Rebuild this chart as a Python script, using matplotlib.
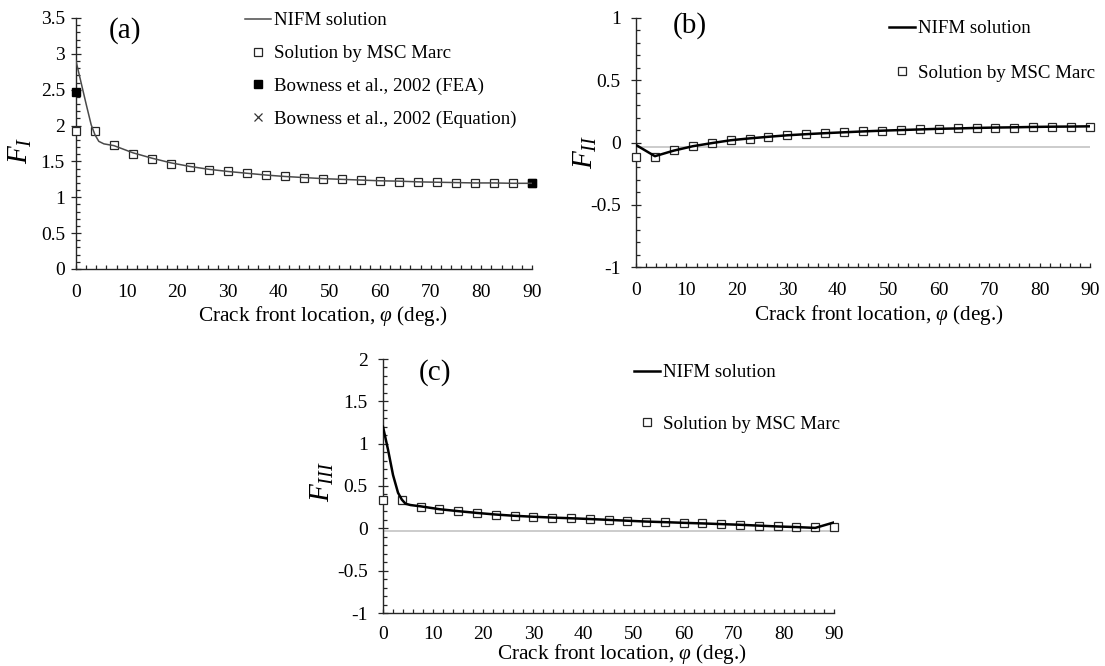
import matplotlib
matplotlib.use("Agg")
import matplotlib.pyplot as plt
from matplotlib.ticker import MultipleLocator, FuncFormatter

plt.rcParams["font.family"] = ["Liberation Serif", "DejaVu Serif"]
plt.rcParams["mathtext.fontset"] = "custom"
plt.rcParams["mathtext.rm"] = "Liberation Serif"
plt.rcParams["mathtext.it"] = "Liberation Serif:italic"

# ---------------- data ----------------
# crack front positions of the MSC Marc nodes (deg.)
phi_marc = [0, 3.75, 7.5, 11.25, 15, 18.75, 22.5, 26.25, 30, 33.75, 37.5, 41.25, 45,
            48.75, 52.5, 56.25, 60, 63.75, 67.5, 71.25, 75, 78.75, 82.5, 86.25, 90]

# NIFM evaluation points (refined near the surface point)
phi_nifm_fine = [0, 1, 2, 3, 3.75, 4.5, 5.5, 7.5, 11.25, 15, 18.75, 22.5, 26.25, 30,
                 33.75, 37.5, 41.25, 45, 48.75, 52.5, 56.25, 60, 63.75, 67.5, 71.25,
                 75, 78.75, 82.5, 86.25, 90]

# Mode I
fI_nifm = [2.90, 2.60, 2.30, 2.01, 1.87, 1.78, 1.745, 1.72, 1.62, 1.545, 1.48, 1.43,
           1.39, 1.36, 1.335, 1.31, 1.29, 1.275, 1.26, 1.25, 1.24, 1.23, 1.225, 1.215,
           1.21, 1.205, 1.20, 1.20, 1.195, 1.195]
fI_marc = [1.93, 1.93, 1.73, 1.61, 1.54, 1.47, 1.42, 1.385, 1.36, 1.335, 1.31, 1.29,
           1.27, 1.26, 1.25, 1.24, 1.225, 1.22, 1.21, 1.21, 1.205, 1.20, 1.20, 1.20, 1.20]
phi_bowness_fea = [0, 90]
fI_bowness_fea = [2.47, 1.20]
phi_bowness_eq = [90]
fI_bowness_eq = [1.20]

# Mode II
fII_nifm = [-0.02, -0.11, -0.065, -0.03, -0.005, 0.018, 0.033, 0.046, 0.058, 0.067,
            0.075, 0.082, 0.089, 0.095, 0.10, 0.105, 0.11, 0.113, 0.117, 0.12, 0.122,
            0.125, 0.127, 0.128, 0.13]
fII_marc = [-0.113, -0.118, -0.06, -0.027, 0.0, 0.019, 0.032, 0.046, 0.059, 0.067,
            0.075, 0.083, 0.089, 0.094, 0.10, 0.105, 0.11, 0.113, 0.117, 0.118, 0.12,
            0.125, 0.126, 0.126, 0.128]

# Mode III
fIII_nifm = [1.20, 0.93, 0.63, 0.42, 0.34, 0.29, 0.275, 0.26, 0.226, 0.203, 0.182,
             0.163, 0.148, 0.137, 0.127, 0.119, 0.11, 0.10, 0.09, 0.08, 0.073, 0.065,
             0.058, 0.05, 0.042, 0.032, 0.022, 0.015, 0.005, 0.07]
fIII_marc = [0.334, 0.334, 0.255, 0.228, 0.204, 0.18, 0.16, 0.145, 0.137, 0.125, 0.117,
             0.11, 0.10, 0.09, 0.08, 0.074, 0.066, 0.058, 0.048, 0.042, 0.03, 0.022,
             0.015, 0.01, 0.01]

# faint reference level drawn in panels (b) and (c)
ref_phi = [0, 90]
ref_level = [-0.035, -0.035]

x_label = r"Crack front location, $\varphi$ (deg.)"

# ---------------- figure ----------------
W, H = 1105, 666
fig = plt.figure(figsize=(W / 100, H / 100), dpi=100)


def px_axes(left, right, top, bottom):
    return fig.add_axes([left / W, 1 - bottom / H, (right - left) / W, (bottom - top) / H])


axA = px_axes(76, 532, 18, 269)
axB = px_axes(636, 1090, 18, 267)
axC = px_axes(383, 834, 359, 613)

AX_COL = "#262626"
MK_EDGE = "#262626"
TICK_FS = 14
LEG_FS = 13.6


def style(ax, ylim, ypad, xpad, xlab_xy, ylab_xy, ylab, panel, panel_xy):
    ax.set_xlim(0, 90)
    ax.set_ylim(*ylim)
    for s in ("top", "right"):
        ax.spines[s].set_visible(False)
    for s in ("left", "bottom"):
        ax.spines[s].set_color(AX_COL)
        ax.spines[s].set_linewidth(1.0)
    ax.xaxis.set_major_locator(MultipleLocator(10))
    ax.xaxis.set_minor_locator(MultipleLocator(2))
    ax.yaxis.set_major_locator(MultipleLocator(0.5))
    ax.yaxis.set_minor_locator(MultipleLocator(0.1))
    ax.tick_params(axis="x", which="both", direction="in", length=3, width=0.9,
                   color=AX_COL, labelsize=TICK_FS, pad=xpad)
    ax.tick_params(axis="y", which="major", direction="inout", length=7, width=0.9,
                   color=AX_COL, labelsize=TICK_FS, pad=ypad)
    ax.tick_params(axis="y", which="minor", direction="in", length=3, width=0.9,
                   color=AX_COL)
    ax.yaxis.set_major_formatter(FuncFormatter(lambda v, p: "0" if abs(v) < 1e-9 else "%g" % v))
    ax.set_xlabel(x_label, fontsize=15.3, va="center")
    ax.xaxis.set_label_coords(*xlab_xy)
    ax.set_ylabel(ylab, fontsize=21, va="center")
    ax.yaxis.set_label_coords(*ylab_xy)
    ax.text(panel_xy[0], panel_xy[1], panel, transform=ax.transAxes, fontsize=21,
            ha="center", va="center")


style(axA, (0, 3.5), 4.5, 11, (0.542, -0.187), (-0.123, 0.474), r"$F_{I}$", "(a)", (0.107, 0.952))
style(axB, (-1, 1), 7.5, 11, (0.535, -0.193), (-0.112, 0.462), r"$F_{II}$", "(b)", (0.119, 0.968))
style(axC, (-1, 2), 7.5, 9.5, (0.53, -0.16), (-0.135, 0.516), r"$F_{III}$", "(c)", (0.115, 0.945))

sq = dict(marker="s", markersize=6.2, markerfacecolor="white", markeredgecolor=MK_EDGE,
          markeredgewidth=0.9, linestyle="none", clip_on=False)

# (a) mode I
axA.plot(phi_marc, fI_marc, label="Solution by MSC Marc", zorder=3, **sq)
axA.plot(phi_bowness_eq, fI_bowness_eq, marker="x", markersize=5.5, color="#333333",
         markeredgewidth=0.9, linestyle="none", clip_on=False, zorder=3,
         label="Bowness et al., 2002 (Equation)")
axA.plot(phi_bowness_fea, fI_bowness_fea, marker="s", markersize=6.2, color="black",
         linestyle="none", clip_on=False, zorder=4, label="Bowness et al., 2002 (FEA)")
axA.plot(phi_nifm_fine, fI_nifm, color="#4a4a4a", lw=1.1, zorder=5, label="NIFM solution")

# (b) mode II
axB.plot(ref_phi, ref_level, color="#c4c4c4", lw=1.2, zorder=1)
axB.plot(phi_marc, fII_marc, label="Solution by MSC Marc", zorder=3, **sq)
axB.plot(phi_marc, fII_nifm, color="black", lw=1.8, zorder=5, label="NIFM solution")

# (c) mode III
axC.plot(ref_phi, ref_level, color="#c4c4c4", lw=1.2, zorder=1)
axC.plot(phi_marc, fIII_marc, label="Solution by MSC Marc", zorder=3, **sq)
axC.plot(phi_nifm_fine, fIII_nifm, color="black", lw=1.8, zorder=5, label="NIFM solution")


def legend(ax, order, x_px, top_px, spacing):
    h, l = ax.get_legend_handles_labels()
    d = dict(zip(l, h))
    return ax.legend([d[k] for k in order], order, loc="upper left",
                     bbox_to_anchor=(x_px / W, 1 - top_px / H),
                     bbox_transform=fig.transFigure, frameon=False, fontsize=LEG_FS,
                     handlelength=1.4, handletextpad=0.12, borderpad=0,
                     borderaxespad=0, labelspacing=spacing, numpoints=1)


legend(axA, ["NIFM solution", "Solution by MSC Marc", "Bowness et al., 2002 (FEA)",
             "Bowness et al., 2002 (Equation)"], 245, 12, 0.83)
legend(axB, ["NIFM solution", "Solution by MSC Marc"], 889, 20, 1.45)
legend(axC, ["NIFM solution", "Solution by MSC Marc"], 634, 364, 1.82)

fig.savefig("out.png", dpi=100)
